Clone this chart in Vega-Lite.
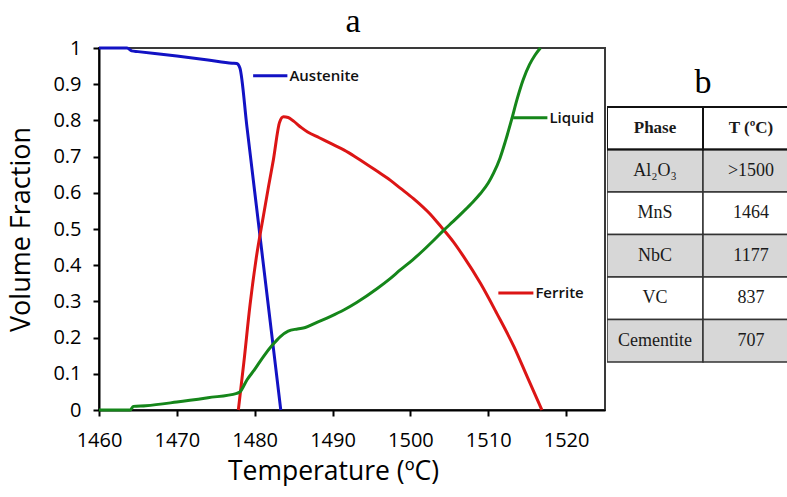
{
  "$schema": "https://vega.github.io/schema/vega-lite/v6.json",
  "padding": {"left": 6, "top": 5, "right": 0, "bottom": 0},
  "spacing": 1,
  "background": "white",
  "title": {"text": "a", "font": "Liberation Serif", "fontSize": 34, "fontWeight": "normal", "color": "#000", "anchor": "middle", "baseline": "top", "offset": 14, "dx": -44, "dy": 16},
  "config": {"view": {"stroke": null}, "axis": {"grid": false, "labelOverlap": false}},
  "datasets": {
    "curves": [
      {"phase": "Austenite", "T": 1460, "frac": 1.0},
      {"phase": "Austenite", "T": 1463.6, "frac": 1.0},
      {"phase": "Austenite", "T": 1464.2, "frac": 0.992},
      {"phase": "Austenite", "T": 1465, "frac": 0.99},
      {"phase": "Austenite", "T": 1470, "frac": 0.978},
      {"phase": "Austenite", "T": 1474, "frac": 0.967},
      {"phase": "Austenite", "T": 1477.1, "frac": 0.958},
      {"phase": "Austenite", "T": 1477.7, "frac": 0.957},
      {"phase": "Austenite", "T": 1478.1, "frac": 0.945},
      {"phase": "Austenite", "T": 1479.0, "frac": 0.783},
      {"phase": "Austenite", "T": 1480.0, "frac": 0.603},
      {"phase": "Austenite", "T": 1481.0, "frac": 0.423},
      {"phase": "Austenite", "T": 1482.0, "frac": 0.243},
      {"phase": "Austenite", "T": 1482.7, "frac": 0.117},
      {"phase": "Austenite", "T": 1483.35, "frac": 0.0},
      {"phase": "Ferrite", "T": 1477.9, "frac": 0.0},
      {"phase": "Ferrite", "T": 1478.6, "frac": 0.13},
      {"phase": "Ferrite", "T": 1479.4, "frac": 0.29},
      {"phase": "Ferrite", "T": 1480.2, "frac": 0.42},
      {"phase": "Ferrite", "T": 1481.1, "frac": 0.534},
      {"phase": "Ferrite", "T": 1481.8, "frac": 0.62},
      {"phase": "Ferrite", "T": 1482.4, "frac": 0.691},
      {"phase": "Ferrite", "T": 1483.2, "frac": 0.795},
      {"phase": "Ferrite", "T": 1483.7, "frac": 0.81},
      {"phase": "Ferrite", "T": 1484.3, "frac": 0.808},
      {"phase": "Ferrite", "T": 1485.0, "frac": 0.798},
      {"phase": "Ferrite", "T": 1486.0, "frac": 0.78},
      {"phase": "Ferrite", "T": 1486.8, "frac": 0.768},
      {"phase": "Ferrite", "T": 1488.3, "frac": 0.752},
      {"phase": "Ferrite", "T": 1489.7, "frac": 0.737},
      {"phase": "Ferrite", "T": 1491.5, "frac": 0.718},
      {"phase": "Ferrite", "T": 1493.1, "frac": 0.697},
      {"phase": "Ferrite", "T": 1495.7, "frac": 0.66},
      {"phase": "Ferrite", "T": 1497.4, "frac": 0.635},
      {"phase": "Ferrite", "T": 1498.7, "frac": 0.613},
      {"phase": "Ferrite", "T": 1500.4, "frac": 0.584},
      {"phase": "Ferrite", "T": 1502.5, "frac": 0.542},
      {"phase": "Ferrite", "T": 1503.4, "frac": 0.52},
      {"phase": "Ferrite", "T": 1504.3, "frac": 0.497},
      {"phase": "Ferrite", "T": 1505.5, "frac": 0.465},
      {"phase": "Ferrite", "T": 1506.8, "frac": 0.425},
      {"phase": "Ferrite", "T": 1509.0, "frac": 0.35},
      {"phase": "Ferrite", "T": 1511.1, "frac": 0.267},
      {"phase": "Ferrite", "T": 1513.3, "frac": 0.175},
      {"phase": "Ferrite", "T": 1515.0, "frac": 0.092},
      {"phase": "Ferrite", "T": 1516.9, "frac": 0.0},
      {"phase": "Liquid", "T": 1460, "frac": 0.0},
      {"phase": "Liquid", "T": 1464, "frac": 0.0},
      {"phase": "Liquid", "T": 1464.4, "frac": 0.01},
      {"phase": "Liquid", "T": 1466, "frac": 0.012},
      {"phase": "Liquid", "T": 1470, "frac": 0.022},
      {"phase": "Liquid", "T": 1474, "frac": 0.034},
      {"phase": "Liquid", "T": 1477.7, "frac": 0.046},
      {"phase": "Liquid", "T": 1478.1, "frac": 0.05},
      {"phase": "Liquid", "T": 1479.0, "frac": 0.083},
      {"phase": "Liquid", "T": 1480.0, "frac": 0.112},
      {"phase": "Liquid", "T": 1481.1, "frac": 0.147},
      {"phase": "Liquid", "T": 1482.3, "frac": 0.18},
      {"phase": "Liquid", "T": 1483.3, "frac": 0.203},
      {"phase": "Liquid", "T": 1484.3, "frac": 0.218},
      {"phase": "Liquid", "T": 1485.5, "frac": 0.224},
      {"phase": "Liquid", "T": 1486.5, "frac": 0.228},
      {"phase": "Liquid", "T": 1488.0, "frac": 0.242},
      {"phase": "Liquid", "T": 1489.7, "frac": 0.258},
      {"phase": "Liquid", "T": 1491.5, "frac": 0.277},
      {"phase": "Liquid", "T": 1493.1, "frac": 0.297},
      {"phase": "Liquid", "T": 1495.7, "frac": 0.335},
      {"phase": "Liquid", "T": 1497.4, "frac": 0.363},
      {"phase": "Liquid", "T": 1498.7, "frac": 0.387},
      {"phase": "Liquid", "T": 1500.3, "frac": 0.415},
      {"phase": "Liquid", "T": 1501.7, "frac": 0.442},
      {"phase": "Liquid", "T": 1503.0, "frac": 0.469},
      {"phase": "Liquid", "T": 1504.3, "frac": 0.497},
      {"phase": "Liquid", "T": 1505.5, "frac": 0.521},
      {"phase": "Liquid", "T": 1506.8, "frac": 0.548},
      {"phase": "Liquid", "T": 1508.0, "frac": 0.574},
      {"phase": "Liquid", "T": 1509.0, "frac": 0.598},
      {"phase": "Liquid", "T": 1510.0, "frac": 0.627},
      {"phase": "Liquid", "T": 1510.7, "frac": 0.655},
      {"phase": "Liquid", "T": 1511.5, "frac": 0.695},
      {"phase": "Liquid", "T": 1512.2, "frac": 0.742},
      {"phase": "Liquid", "T": 1513.0, "frac": 0.802},
      {"phase": "Liquid", "T": 1513.7, "frac": 0.858},
      {"phase": "Liquid", "T": 1514.5, "frac": 0.913},
      {"phase": "Liquid", "T": 1515.3, "frac": 0.954},
      {"phase": "Liquid", "T": 1516.0, "frac": 0.98},
      {"phase": "Liquid", "T": 1516.7, "frac": 1.0}
    ],
    "keys": [
      {"phase": "Austenite", "T": 1479.8, "T2": 1484.2, "frac": 0.923},
      {"phase": "Liquid", "T": 1513.2, "T2": 1517.6, "frac": 0.807},
      {"phase": "Ferrite", "T": 1511.3, "T2": 1515.8, "frac": 0.323}
    ],
    "table": [
      {"row": "header", "Phase": "Phase", "T": "T (ºC)", "shade": "no"},
      {"row": "Al2O3", "Phase": "Al₂O₃", "T": ">1500", "shade": "yes"},
      {"row": "MnS", "Phase": "MnS", "T": "1464", "shade": "no"},
      {"row": "NbC", "Phase": "NbC", "T": "1177", "shade": "yes"},
      {"row": "VC", "Phase": "VC", "T": "837", "shade": "no"},
      {"row": "Cementite", "Phase": "Cementite", "T": "707", "shade": "yes"}
    ],
    "tabletitle": [
      {"row": "title", "col": "T", "label": "b"}
    ]
  },
  "hconcat": [
    {
      "width": 506,
      "height": 362,
      "view": {"stroke": "#3a3a3a", "strokeWidth": 2},
      "encoding": {
        "x": {"field": "T", "type": "quantitative",
          "scale": {"domain": [1460, 1525], "nice": false, "zero": false},
          "axis": {"values": [1460, 1470, 1480, 1490, 1500, 1510, 1520], "format": "d", "title": "Temperature (ºC)",
            "domainColor": "#000", "domainWidth": 2, "tickColor": "#000", "tickWidth": 2, "tickSize": 6,
            "labelFont": "Open Sans", "labelFontSize": 20, "labelColor": "#000", "labelPadding": 14, "labelFlush": false, "labelOverlap": false,
            "titleFont": "Open Sans", "titleFontSize": 26.5, "titleFontWeight": "normal", "titleColor": "#000", "titlePadding": 8, "titleX": 234}},
        "y": {"field": "frac", "type": "quantitative",
          "scale": {"domain": [0, 1], "nice": false},
          "axis": {"tickCount": 11, "values": [0, 0.1, 0.2, 0.3, 0.4, 0.5, 0.6, 0.7, 0.8, 0.9, 1],
            "labelExpr": "datum.value == 0 ? '0' : datum.value == 1 ? '1' : format(datum.value, '.1f')",
            "title": "Volume Fraction",
            "domainColor": "#000", "domainWidth": 2, "tickColor": "#000", "tickWidth": 2, "tickSize": 6,
            "labelFont": "Open Sans", "labelFontSize": 20, "labelColor": "#000", "labelPadding": 12, "labelFlush": false, "labelOverlap": false,
            "titleFont": "Open Sans", "titleFontSize": 27, "titleFontWeight": "normal", "titleColor": "#000", "titlePadding": 17}}
      },
      "layer": [
        {
          "data": {"name": "curves"},
          "mark": {"type": "line", "strokeWidth": 3, "interpolate": "monotone"},
          "encoding": {
            "color": {"field": "phase", "type": "nominal", "legend": null,
              "scale": {"domain": ["Austenite", "Ferrite", "Liquid"], "range": ["#1212c4", "#dc1515", "#15861a"]}},
            "detail": {"field": "phase"}
          }
        },
        {
          "data": {"name": "keys"},
          "mark": {"type": "rule", "strokeWidth": 3},
          "encoding": {
            "x2": {"field": "T2"},
            "color": {"field": "phase", "type": "nominal", "legend": null}
          }
        },
        {
          "data": {"name": "keys"},
          "mark": {"type": "text", "align": "left", "baseline": "middle", "dx": 2, "font": "Open Sans", "fontSize": 15, "fontWeight": 600, "color": "#111"},
          "encoding": {
            "x": {"field": "T2", "type": "quantitative"},
            "text": {"field": "phase"}
          }
        }
      ]
    },
    {
      "width": 180,
      "height": 362,
      "view": {"stroke": null},
      "layer": [
        {
          "data": {"name": "table"},
          "transform": [{"fold": ["Phase", "T"], "as": ["col", "text"]}],
          "mark": {"type": "rect", "stroke": "#333", "strokeWidth": 1.5, "clip": true},
          "encoding": {
            "x": {"field": "col", "type": "nominal", "axis": null,
              "scale": {"domain": ["Phase", "T"], "range": [0, 192], "paddingInner": 0, "paddingOuter": 0}},
            "y": {"field": "row", "type": "nominal", "axis": null,
              "scale": {"domain": ["title", "header", "Al2O3", "MnS", "NbC", "VC", "Cementite"], "range": [16.5, 314], "paddingInner": 0, "paddingOuter": 0}},
            "fill": {"field": "shade", "type": "nominal", "legend": null,
              "scale": {"domain": ["no", "yes"], "range": ["#ffffff", "#d7d7d7"]}}
          }
        },
        {
          "data": {"name": "table"},
          "transform": [{"filter": "datum.row === 'header'"}, {"fold": ["Phase", "T"], "as": ["col", "text"]}],
          "mark": {"type": "rect", "fill": null, "stroke": "#111", "strokeWidth": 2, "clip": true},
          "encoding": {
            "x": {"field": "col", "type": "nominal"},
            "y": {"field": "row", "type": "nominal"}
          }
        },
        {
          "data": {"name": "table"},
          "transform": [{"filter": "datum.row !== 'header'"}, {"fold": ["Phase", "T"], "as": ["col", "text"]}],
          "mark": {"type": "text", "font": "Liberation Serif", "fontSize": 18, "color": "#1a1a1a", "baseline": "middle"},
          "encoding": {
            "x": {"field": "col", "type": "nominal"},
            "y": {"field": "row", "type": "nominal"},
            "text": {"field": "text"}
          }
        },
        {
          "data": {"name": "table"},
          "transform": [{"filter": "datum.row === 'header'"}, {"fold": ["Phase", "T"], "as": ["col", "text"]}],
          "mark": {"type": "text", "font": "Liberation Serif", "fontSize": 17, "fontWeight": "bold", "color": "#1a1a1a", "baseline": "middle"},
          "encoding": {
            "x": {"field": "col", "type": "nominal"},
            "y": {"field": "row", "type": "nominal"},
            "text": {"field": "text"}
          }
        },
        {
          "data": {"name": "tabletitle"},
          "mark": {"type": "text", "font": "Liberation Serif", "fontSize": 34, "color": "#000", "baseline": "middle", "dy": -3},
          "encoding": {
            "x": {"field": "col", "type": "nominal", "bandPosition": 0},
            "y": {"field": "row", "type": "nominal"},
            "text": {"field": "label"}
          }
        }
      ]
    }
  ]
}
